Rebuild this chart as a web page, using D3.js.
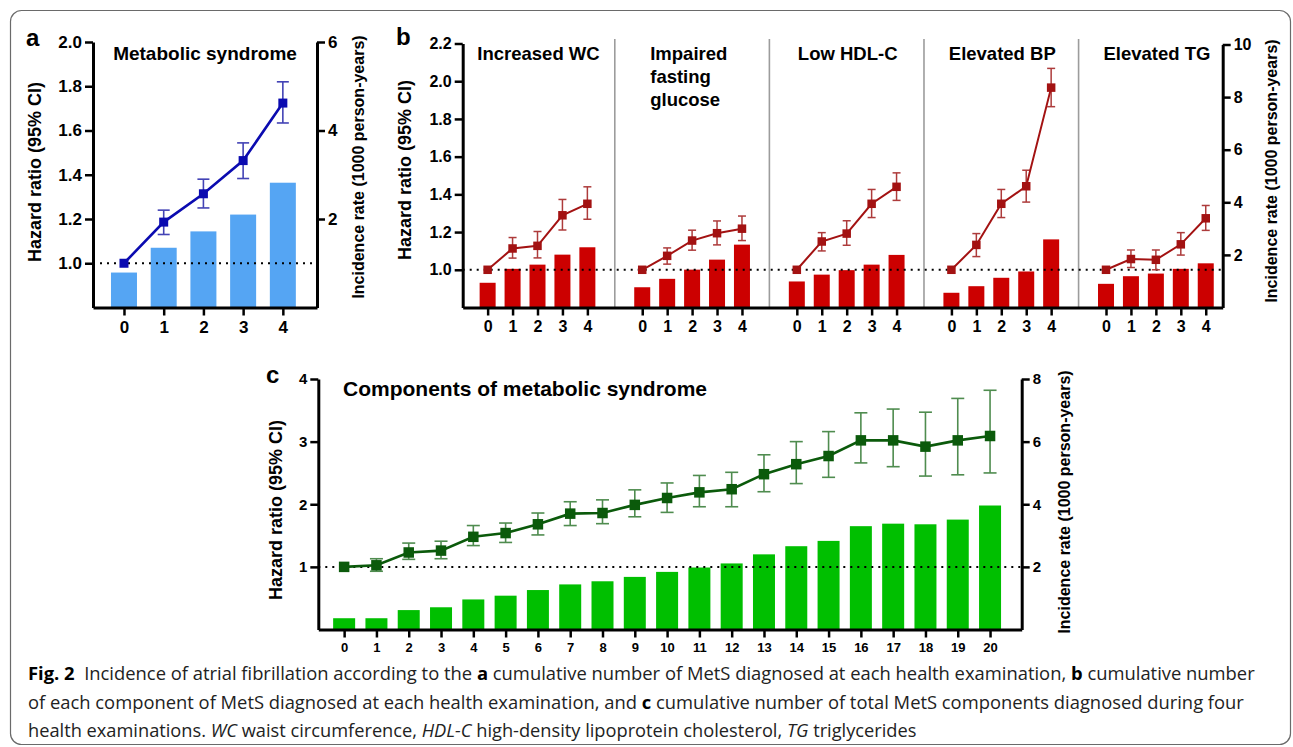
<!DOCTYPE html>
<html>
<head>
<meta charset="utf-8">
<script src="https://cdn.jsdelivr.net/npm/d3@7"></script>
<style>
  html, body { margin: 0; padding: 0; background: #fff; }
  svg { display: block; }
</style>
</head>
<body>
<script>
// ---------------- DATA ----------------
// Panel a: Metabolic syndrome
const aCategories = [0, 1, 2, 3, 4];
const aIncidence = [0.79, 1.35, 1.72, 2.10, 2.82];
const aHR = [1.0, 1.186, 1.314, 1.464, 1.724];
const aLower = [1.0, 1.13, 1.25, 1.383, 1.634];
const aUpper = [1.0, 1.24, 1.38, 1.544, 1.82];
const aLeftTicks = [1.0, 1.2, 1.4, 1.6, 1.8, 2.0];
const aRightTicks = [2, 4, 6];

// Panel b: components
const bPanels = ["Increased WC", "Impaired fasting glucose", "Low HDL-C", "Elevated BP", "Elevated TG"];
const bTitleLines = [["Increased WC"], ["Impaired", "fasting", "glucose"], ["Low HDL-C"], ["Elevated BP"], ["Elevated TG"]];
const bCategories = [0, 1, 2, 3, 4];
const bIncidence = [
  [0.94, 1.47, 1.63, 2.01, 2.29],
  [0.77, 1.09, 1.44, 1.82, 2.39],
  [0.99, 1.25, 1.42, 1.63, 2.00],
  [0.56, 0.81, 1.13, 1.37, 2.59],
  [0.90, 1.19, 1.29, 1.47, 1.68]
];
const bHR = [
  [1.0, 1.113, 1.127, 1.289, 1.350],
  [1.0, 1.074, 1.155, 1.194, 1.218],
  [1.0, 1.150, 1.192, 1.350, 1.440],
  [1.0, 1.132, 1.350, 1.443, 1.966],
  [1.0, 1.057, 1.053, 1.135, 1.273]
];
const bLower = [
  [1.0, 1.062, 1.063, 1.211, 1.268],
  [1.0, 1.030, 1.104, 1.132, 1.155],
  [1.0, 1.100, 1.130, 1.277, 1.368],
  [1.0, 1.070, 1.277, 1.359, 1.865],
  [1.0, 1.012, 1.000, 1.078, 1.209]
];
const bUpper = [
  [1.0, 1.171, 1.203, 1.373, 1.440],
  [1.0, 1.116, 1.210, 1.259, 1.285],
  [1.0, 1.197, 1.260, 1.426, 1.514],
  [1.0, 1.192, 1.426, 1.528, 2.068],
  [1.0, 1.105, 1.105, 1.197, 1.341]
];
const bLeftTicks = [1.0, 1.2, 1.4, 1.6, 1.8, 2.0, 2.2];
const bRightTicks = [2, 4, 6, 8, 10];

// Panel c: number of components
const cCategories = d3.range(0, 21);
const cIncidence = [0.36, 0.36, 0.62, 0.71, 0.96, 1.08, 1.26, 1.44, 1.54, 1.68, 1.84, 1.98, 2.11, 2.40, 2.66, 2.83, 3.30, 3.38, 3.36, 3.51, 3.96];
const cHR = [1.0, 1.025, 1.23, 1.26, 1.48, 1.54, 1.68, 1.85, 1.86, 1.99, 2.10, 2.19, 2.24, 2.48, 2.64, 2.77, 3.02, 3.02, 2.92, 3.02, 3.09];
const cLower = [1.0, 0.93, 1.12, 1.13, 1.34, 1.39, 1.51, 1.66, 1.69, 1.80, 1.87, 1.96, 1.96, 2.20, 2.33, 2.43, 2.66, 2.60, 2.45, 2.47, 2.50];
const cUpper = [1.0, 1.13, 1.38, 1.41, 1.66, 1.70, 1.86, 2.04, 2.07, 2.23, 2.34, 2.46, 2.51, 2.79, 3.00, 3.16, 3.46, 3.52, 3.47, 3.69, 3.82];
const cLeftTicks = [1, 2, 3, 4];
const cRightTicks = [2, 4, 6, 8];

const hrTitle = "Hazard ratio (95% CI)";
const irTitle = "Incidence rate (1000 person-years)";

// ---------------- DRAWING ----------------
const FONT = "'Liberation Sans', Arial, Helvetica, sans-serif";
const W = 1293, H = 747;
const svg = d3.select("body").append("svg").attr("width", W).attr("height", H);

// outer frame
svg.append("rect").attr("x", 10.5).attr("y", 10.5).attr("width", 1280).attr("height", 734)
  .attr("rx", 11).attr("fill", "none").attr("stroke", "#6a6a6a").attr("stroke-width", 1.2);

function styleAxis(g, fs) {
  g.attr("font-family", FONT).attr("font-size", fs).attr("font-weight", "bold");
  g.select(".domain").attr("stroke", "#000").attr("stroke-width", 3);
  g.selectAll(".tick line").attr("stroke", "#000").attr("stroke-width", 2.5);
  g.selectAll(".tick text").attr("fill", "#000");
}

function drawSeries(g, pts, yL, yR, o) {
  g.append("g").selectAll("rect").data(pts).join("rect")
    .attr("x", d => d.x - o.barW / 2)
    .attr("y", d => yR(d.inc))
    .attr("width", o.barW)
    .attr("height", d => yR(0) - yR(d.inc))
    .attr("fill", o.barColor);
}

function drawHR(g, pts, yL, o) {
  const eb = g.append("g").attr("stroke", o.errColor).attr("stroke-width", o.errW).attr("fill", "none");
  pts.filter(d => d.hi > d.lo).forEach(d => {
    eb.append("line").attr("x1", d.x).attr("x2", d.x).attr("y1", yL(d.lo)).attr("y2", yL(d.hi));
    eb.append("line").attr("x1", d.x - o.cap / 2).attr("x2", d.x + o.cap / 2).attr("y1", yL(d.lo)).attr("y2", yL(d.lo));
    eb.append("line").attr("x1", d.x - o.cap / 2).attr("x2", d.x + o.cap / 2).attr("y1", yL(d.hi)).attr("y2", yL(d.hi));
  });
  g.append("path").datum(pts)
    .attr("d", d3.line().x(d => d.x).y(d => yL(d.hr)))
    .attr("fill", "none").attr("stroke", o.lineColor).attr("stroke-width", o.lineW);
  g.append("g").selectAll("rect").data(pts).join("rect")
    .attr("x", d => d.x - o.mk / 2).attr("y", d => yL(d.hr) - o.mk / 2)
    .attr("width", o.mk).attr("height", o.mk).attr("fill", o.lineColor);
}

function refLine(g, x0, x1, y) {
  g.append("line").attr("x1", x0).attr("x2", x1).attr("y1", y).attr("y2", y)
    .attr("stroke", "#000").attr("stroke-width", 2).attr("stroke-dasharray", "2,5");
}

function vTitle(x, y, text, fs, weight) {
  svg.append("text").attr("transform", `translate(${x},${y}) rotate(-90)`)
    .attr("text-anchor", "middle").attr("dominant-baseline", "central")
    .attr("font-family", FONT).attr("font-size", fs).attr("font-weight", weight)
    .attr("fill", "#000").text(text);
}

function panelLetter(x, y, t) {
  svg.append("text").attr("x", x).attr("y", y).attr("font-family", FONT)
    .attr("font-size", 24).attr("font-weight", "bold").attr("fill", "#000").text(t);
}

// ===== Panel a =====
{
  const x = d3.scaleLinear().domain([-0.78, 4.86]).range([93, 317]);
  const yL = d3.scaleLinear().domain([0.8, 2.0]).range([307.5, 42]);
  const yR = d3.scaleLinear().domain([0, 6]).range([307.5, 42]);
  const g = svg.append("g");
  const pts = aCategories.map((c, i) => ({ x: x(c), inc: aIncidence[i], hr: aHR[i], lo: aLower[i], hi: aUpper[i] }));
  drawSeries(g, pts, yL, yR, { barW: 26, barColor: "#55a5f3" });
  refLine(g, x.range()[0], x.range()[1], yL(1));
  drawHR(g, pts, yL, { errColor: "#4343b5", errW: 1.6, cap: 12, lineColor: "#0b0bb0", lineW: 2.6, mk: 9 });

  const ax = svg.append("g").attr("transform", `translate(0,${yL.range()[0]})`)
    .call(d3.axisBottom(x).tickValues(aCategories).tickFormat(d3.format("d")).tickSize(8).tickSizeOuter(0).tickPadding(5));
  styleAxis(ax, 17);
  const al = svg.append("g").attr("transform", `translate(${x.range()[0]},0)`)
    .call(d3.axisLeft(yL).tickValues(aLeftTicks).tickFormat(d3.format(".1f")).tickSize(8).tickSizeOuter(0).tickPadding(3));
  styleAxis(al, 17);
  const ar = svg.append("g").attr("transform", `translate(${x.range()[1]},0)`)
    .call(d3.axisRight(yR).tickValues(aRightTicks).tickFormat(d3.format("d")).tickSize(8).tickSizeOuter(0).tickPadding(3));
  styleAxis(ar, 17);

  svg.append("text").attr("x", (x.range()[0] + x.range()[1]) / 2).attr("y", 60).attr("text-anchor", "middle")
    .attr("font-family", FONT).attr("font-size", 19).attr("font-weight", "bold").text("Metabolic syndrome");
  vTitle(35, 172, hrTitle, 18, "bold");
  vTitle(358, 167, irTitle, 16, "bold");
  panelLetter(26, 46, "a");
}

// ===== Panel b =====
{
  const step = 6.2;
  const slot = (p, i) => p * step + i;
  const x = d3.scaleLinear().domain([-1.0, 29.48]).range([462.7, 1222.7]);
  const yL = d3.scaleLinear().domain([0.8, 2.2]).range([307.5, 43.5]);
  const yR = d3.scaleLinear().domain([0, 10]).range([307.5, 44.5]);
  const g = svg.append("g");

  bPanels.forEach((_, p) => {
    if (p === 0) return;
    const sx = x(slot(p, 0) - 1.1);
    g.append("line").attr("x1", sx).attr("x2", sx).attr("y1", 39).attr("y2", 307)
      .attr("stroke", "#9c9c9c").attr("stroke-width", 1.6);
  });

  const allPts = bPanels.map((_, p) => bCategories.map((c, i) => ({
    x: x(slot(p, c)), inc: bIncidence[p][i], hr: bHR[p][i], lo: bLower[p][i], hi: bUpper[p][i]
  })));
  allPts.forEach(pts => drawSeries(g, pts, yL, yR, { barW: 16, barColor: "#cc0000" }));
  refLine(g, x.range()[0], x.range()[1], yL(1));
  allPts.forEach(pts => drawHR(g, pts, yL, { errColor: "#ad3b3b", errW: 1.5, cap: 8, lineColor: "#a31212", lineW: 2, mk: 8.5 }));

  const tickVals = bPanels.flatMap((_, p) => bCategories.map(c => slot(p, c)));
  const ax = svg.append("g").attr("transform", `translate(0,${yL.range()[0]})`)
    .call(d3.axisBottom(x).tickValues(tickVals).tickFormat((d, k) => bCategories[k % bCategories.length])
      .tickSize(8).tickSizeOuter(0).tickPadding(5));
  styleAxis(ax, 16);
  const al = svg.append("g").attr("transform", `translate(${x.range()[0]},0)`)
    .call(d3.axisLeft(yL).tickValues(bLeftTicks).tickFormat(d3.format(".1f")).tickSize(8).tickSizeOuter(0).tickPadding(3));
  styleAxis(al, 16);
  const ar = svg.append("g").attr("transform", `translate(${x.range()[1]},0)`)
    .call(d3.axisRight(yR).tickValues(bRightTicks).tickFormat(d3.format("d")).tickSize(8).tickSizeOuter(0).tickPadding(3));
  styleAxis(ar, 16);

  bTitleLines.forEach((lines, p) => {
    const multi = lines.length > 1;
    const tx = multi ? x(slot(p, 0)) + 8 : x(slot(p, 2)) + 1;
    const t = svg.append("text").attr("font-family", FONT).attr("font-size", 18.5).attr("font-weight", "bold")
      .attr("text-anchor", multi ? "start" : "middle").attr("x", tx).attr("y", 60);
    lines.forEach((ln, k) => t.append("tspan").attr("x", tx).attr("dy", k === 0 ? 0 : 23).text(ln));
  });
  vTitle(405, 170, hrTitle, 18, "bold");
  vTitle(1271, 171, irTitle, 16, "bold");
  panelLetter(396, 45, "b");
}

// ===== Panel c =====
{
  const x = d3.scaleLinear().domain([-0.8, 20.98]).range([318.3, 1021.7]);
  const yL = d3.scaleLinear().domain([0, 4]).range([629.5, 379]);
  const yR = d3.scaleLinear().domain([0, 8]).range([629.5, 379]);
  const g = svg.append("g");
  const pts = cCategories.map((c, i) => ({ x: x(c), inc: cIncidence[i], hr: cHR[i], lo: cLower[i], hi: cUpper[i] }));
  drawSeries(g, pts, yL, yR, { barW: 22, barColor: "#00bf00" });
  refLine(g, x.range()[0], x.range()[1], yL(1));
  drawHR(g, pts, yL, { errColor: "#4f8c4f", errW: 1.6, cap: 13, lineColor: "#0b5a0b", lineW: 2.6, mk: 10.5 });

  const ax = svg.append("g").attr("transform", `translate(0,${yL.range()[0]})`)
    .call(d3.axisBottom(x).tickValues(cCategories).tickFormat(d3.format("d")).tickSize(8).tickSizeOuter(0).tickPadding(5));
  styleAxis(ax, 13);
  const al = svg.append("g").attr("transform", `translate(${x.range()[0]},0)`)
    .call(d3.axisLeft(yL).tickValues(cLeftTicks).tickFormat(d3.format("d")).tickSize(8).tickSizeOuter(0).tickPadding(3));
  styleAxis(al, 15);
  const ar = svg.append("g").attr("transform", `translate(${x.range()[1]},0)`)
    .call(d3.axisRight(yR).tickValues(cRightTicks).tickFormat(d3.format("d")).tickSize(8).tickSizeOuter(0).tickPadding(3));
  styleAxis(ar, 15);

  svg.append("text").attr("x", 343).attr("y", 396).attr("font-family", FONT).attr("font-size", 21)
    .attr("font-weight", "bold").text("Components of metabolic syndrome");
  vTitle(276, 510, hrTitle, 18, "bold");
  vTitle(1064, 502, irTitle, 16, "bold");
  panelLetter(266, 383, "c");
}

// ===== Caption =====
{
  const CF = "'Open Sans', 'Noto Sans', sans-serif";
  const lines = [
    { y: 680, len: 1227, parts: [["Fig. 2", "b"], ["\u00a0 Incidence of atrial fibrillation according to the ", ""], ["a", "b"], [" cumulative number of MetS diagnosed at each health examination, ", ""], ["b", "b"], [" cumulative number", ""]] },
    { y: 709, len: 1217, parts: [["of each component of MetS diagnosed at each health examination, and ", ""], ["c", "b"], [" cumulative number of total MetS components diagnosed during four", ""]] },
    { y: 737, len: 889, parts: [["health examinations. ", ""], ["WC", "i"], [" waist circumference, ", ""], ["HDL-C", "i"], [" high-density lipoprotein cholesterol, ", ""], ["TG", "i"], [" triglycerides", ""]] }
  ];
  lines.forEach(l => {
    const grp = svg.append("g");
    const t = grp.append("text").attr("x", 0).attr("y", 0).attr("font-family", CF).attr("font-size", 18.5)
      .attr("fill", "#222");
    l.parts.forEach(([s, f]) => {
      const ts = t.append("tspan").text(s);
      if (f === "b") ts.attr("font-weight", "bold").attr("fill", "#000");
      if (f === "i") ts.attr("font-style", "italic");
    });
    const natural = t.node().getComputedTextLength();
    const sx = natural > 0 ? l.len / natural : 1;
    grp.attr("transform", `translate(28,${l.y}) scale(${sx},1)`);
  });
}
</script>
</body>
</html>
